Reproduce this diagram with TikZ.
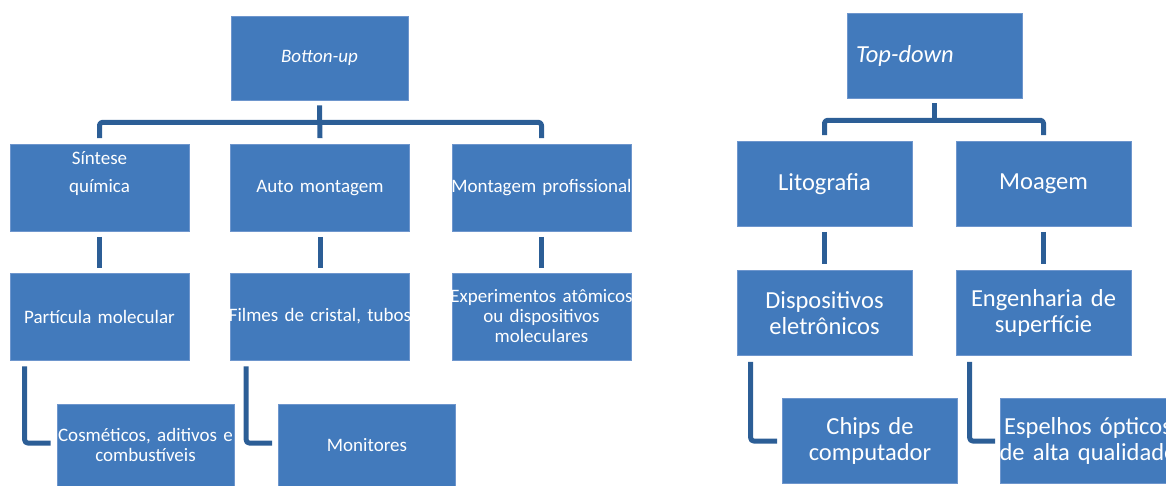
\documentclass[tikz,border=0pt]{standalone}
\usepackage{fontspec}
\setmainfont{Carlito}
\definecolor{boxfill}{RGB}{66,122,188}
\definecolor{boxline}{RGB}{110,150,205}
\definecolor{connline}{RGB}{44,94,150}
\newcommand{\nowrap}[1]{\makebox[0pt]{#1}}
\tikzset{
  box/.style={draw=boxline,line width=0.6pt,fill=boxfill,text=white,inner sep=0pt,align=center},
  lbox/.style={box,text width=179pt,minimum height=87pt,font=\fontsize{19}{20}\selectfont},
  lsub/.style={box,text width=177pt,minimum height=82pt,font=\fontsize{19}{20}\selectfont},
  rbox/.style={box,text width=175pt,minimum height=85pt,font=\fontsize{24.5}{26}\selectfont},
  conn/.style={draw=connline,line width=5pt,line join=round,rounded corners=3pt}
}
\begin{document}
\begin{tikzpicture}[x=1pt,y=-1pt]
\useasboundingbox (0,0) rectangle (1166,486);
% Botton-up
\node [lbox,text width=177pt,minimum height=84pt] (bu) at (319.5,58) {\itshape Botton-up};
\node [lbox] (sint) at (99.5,188) {Síntese\\[8pt]química\\[12pt]\mbox{}};
\node [lbox] (auto) at (320,188) {Auto montagem};
\node [lbox] (prof) at (541.5,188) {\nowrap{Montagem profissional}};
\node [lbox] (part) at (99.5,316.5) {Partícula molecular};
\node [lbox] (film) at (320,316.5) {\nowrap{Filmes de cristal, tubos}};
\node [lbox] (expe) at (541.5,316.5) {\nowrap{Experimentos atômicos}\\ou dispositivos\\moleculares};
\node [lsub] (cosm) at (145.5,445) {\nowrap{Cosméticos, aditivos e}\\combustíveis};
\node [lsub] (moni) at (367,445) {Monitores};
\draw [conn] ([yshift=-5pt]bu.south) -- ([yshift=6pt]auto.north);
\draw [conn] ([yshift=6pt]sint.north) |- ([yshift=-22pt]bu.south) -| ([yshift=6pt]prof.north);
\draw [conn] ([yshift=-5pt]sint.south) -- ([yshift=5pt]part.north);
\draw [conn] ([yshift=-5pt]auto.south) -- ([yshift=5pt]film.north);
\draw [conn] ([yshift=-5pt]prof.south) -- ([yshift=5pt]expe.north);
\draw [conn] ([xshift=15pt,yshift=-6pt]part.south west) |- ([xshift=-6pt,yshift=2pt]cosm.west);
\draw [conn] ([xshift=16pt,yshift=-6pt]film.south west) |- ([xshift=-6pt,yshift=2pt]moni.west);
% Top-down
\node [rbox,text width=157pt,inner xsep=9pt,align=left] (td) at (934.5,55.5) {\itshape Top-down};
\node [rbox] (lito) at (824.5,184) {Litografia};
\node [rbox] (moag) at (1043.5,184) {Moagem};
\node [rbox] (disp) at (824.5,313) {Dispositivos\\eletrônicos};
\node [rbox] (enge) at (1043.5,313) {Engenharia de\\superfície};
\node [rbox] (chip) at (870,441) {Chips de\\computador};
\node [rbox] (espe) at (1088,441) {\nowrap{Espelhos ópticos}\\\nowrap{de alta qualidade}};
\draw [conn] ([yshift=-5pt]td.south) -- ([yshift=-22pt]td.south);
\draw [conn] ([yshift=6pt]lito.north) |- ([yshift=-22pt]td.south) -| ([yshift=6pt]moag.north);
\draw [conn] ([yshift=-5pt]lito.south) -- ([yshift=6pt]disp.north);
\draw [conn] ([yshift=-5pt]moag.south) -- ([yshift=6pt]enge.north);
\draw [conn] ([xshift=14pt,yshift=-6pt]disp.south west) |- ([xshift=-5pt]chip.west);
\draw [conn] ([xshift=14pt,yshift=-6pt]enge.south west) |- ([xshift=-5pt]espe.west);
\end{tikzpicture}
\end{document}
